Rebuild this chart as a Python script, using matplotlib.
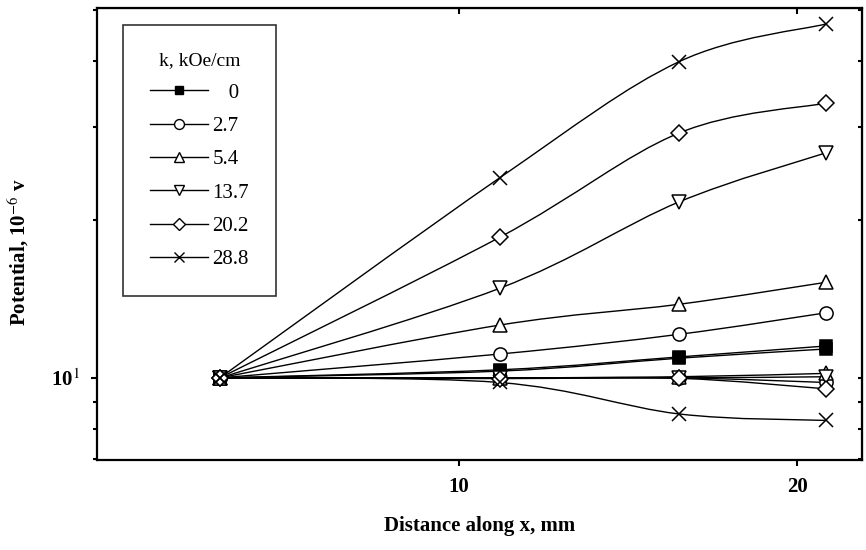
import numpy as np
import matplotlib
matplotlib.use("Agg")
import matplotlib.pyplot as plt
from matplotlib.path import Path
from matplotlib.patches import PathPatch
from matplotlib.lines import Line2D
from matplotlib.ticker import LogLocator, NullFormatter

plt.rcParams['font.family'] = ['Liberation Serif', 'DejaVu Serif']
plt.rcParams['mathtext.fontset'] = 'stix'

# distance along x, mm
x_pos = [2.93, 11.2, 16.5, 20.86]

# field gradient k, kOe/cm
k_labels = ['   0', '2.7', '5.4', '13.7', '20.2', '28.8']
markers = ['s', 'o', '^', 'v', 'D', 'x']

# potential, 1e-6 V : upper branch
upper = [
    [10, 10.36, 10.96, 11.5],
    [10, 11.1, 12.1, 13.3],
    [10, 12.6, 13.8, 15.2],
    [10, 14.8, 21.6, 26.8],
    [10, 18.5, 29.2, 33.3],
    [10, 24.0, 39.9, 47.1],
]

# potential, 1e-6 V : lower branch
lower = [
    [10, 10.3, 10.9, 11.35],
    [10, 10.0, 10.0, 9.8],
    [10, 10.0, 10.05, 10.2],
    [10, 10.0, 10.0, 10.05],
    [10, 9.97, 9.98, 9.53],
    [10, 9.8, 8.54, 8.3],
]


def smooth_path(xs, ys):
    # Catmull-Rom through the points in (x, log y), as cubic Bezier segments
    pts = np.column_stack([xs, np.log10(ys)])
    n = len(pts)
    verts = [pts[0]]
    codes = [Path.MOVETO]
    for i in range(n - 1):
        p0 = pts[i - 1] if i > 0 else pts[i]
        p1 = pts[i]
        p2 = pts[i + 1]
        p3 = pts[i + 2] if i + 2 < n else pts[i + 1]
        verts += [p1 + (p2 - p0) / 6, p2 - (p3 - p1) / 6, p2]
        codes += [Path.CURVE4] * 3
    verts = np.array(verts)
    verts[:, 1] = 10 ** verts[:, 1]
    return Path(verts, codes)


fig = plt.figure(figsize=(8.66, 5.5), dpi=100)
ax = fig.add_axes([0.112, 0.1636, 0.883, 0.822])

handles = []
for i in range(len(k_labels)):
    m = markers[i]
    face = 'black' if m == 's' else 'white'
    ms = 10 if m == 'x' else 9.5
    if m == 'D':
        ms = 8
    if m == 's':
        ms = 8.5
    for branch in (upper, lower):
        ax.add_patch(PathPatch(smooth_path(x_pos, branch[i]), facecolor='none',
                               edgecolor='black', lw=1.0, zorder=2))
        ax.plot(x_pos, branch[i], linestyle='none', marker=m, ms=ms,
                mfc=face, mec='black', mew=1.1, zorder=3)
    handles.append(Line2D([], [], color='black', lw=1.0, marker=m, ms=ms * 0.75,
                          mfc=face, mec='black', mew=1.0))

ax.set_yscale('log')
ax.set_xlim(-0.7, 21.9)
ax.set_ylim(6.98, 50.5)

ax.set_xticks([10, 20])
ax.set_xticklabels(['10', '20'], fontsize=15, fontweight='bold')
ax.set_yticks([10])
ax.set_yticklabels(['10$^1$'], fontsize=15, fontweight='bold')
ax.yaxis.set_minor_locator(LogLocator(base=10, subs=np.arange(2, 10)))
ax.yaxis.set_minor_formatter(NullFormatter())

ax.tick_params(axis='both', which='major', direction='out', length=4, width=1.5, pad=8)
ax.tick_params(axis='y', which='minor', direction='out', length=3, width=1.5)

# inward ticks on the top and right frame
top = ax.secondary_xaxis('top')
top.set_xticks([10, 20])
top.tick_params(direction='in', length=4, width=1.5, labeltop=False)
right = ax.secondary_yaxis('right')
right.set_yticks([10])
right.yaxis.set_minor_locator(LogLocator(base=10, subs=np.arange(2, 10)))
right.yaxis.set_minor_formatter(NullFormatter())
right.tick_params(which='both', direction='in', length=3, width=1.5, labelright=False)

for s in ax.spines.values():
    s.set_linewidth(1.6)

ax.set_xlabel('Distance along x, mm', fontsize=15, fontweight='bold', labelpad=14)
ax.set_ylabel('Potential, 10$^{-6}$ v', fontsize=15, fontweight='bold')
ax.yaxis.set_label_coords(-0.086, 0.46)

leg = ax.legend(handles, k_labels, title='k, kOe/cm', loc='upper left',
                bbox_to_anchor=(0.034, 0.962), borderaxespad=0, fontsize=15,
                title_fontsize=14, frameon=True, fancybox=False, handlelength=2.8,
                handletextpad=0.2, labelspacing=0.66, borderpad=1.3)
leg.get_frame().set_edgecolor('black')
leg.get_frame().set_linewidth(1.2)

fig.savefig('out.png', dpi=100)
